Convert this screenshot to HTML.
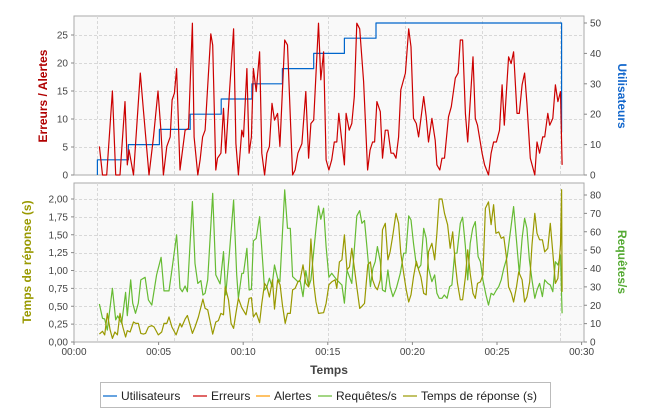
<!DOCTYPE html>
<html><head><meta charset="utf-8">
<style>
body{margin:0;background:#fff;width:647px;height:415px;overflow:hidden;font-family:"Liberation Sans",Arial,sans-serif;}
svg text{font-family:"Liberation Sans",Arial,sans-serif;}
</style></head>
<body>
<svg id="chart" width="647" height="415" xmlns="http://www.w3.org/2000/svg"></svg>
<script>
// ---- data (time in seconds) ----
const xTickLabels = ["00:00","00:05","00:10","00:15","00:20","00:25","00:30"];
const gridTimes = [81,354,630,899,1175,1448,1724];
const errLeftTicks = [0,5,10,15,20,25];
const usersTicks = [0,10,20,30,40,50];
const rtTicks = [0,0.25,0.5,0.75,1,1.25,1.5,1.75,2];
const rtTickLabels = ["0,00","0,25","0,50","0,75","1,00","1,25","1,50","1,75","2,00"];
const reqTicks = [0,10,20,30,40,50,60,70,80];

const usersTimes = [83,83,193,303,412,522,631,739,850,959,1071,1727,1729];
const usersValues = [0,5,10,15,20,25,30,35,40,45,50,50,14];

const errTimes = [90,101,116,136,148,163,181,189,195,211,235,246,266,282,298,308,317,329,341,348,356,364,376,394,406,420,426,439,447,456,465,485,492,503,509,521,530,538,551,566,574,583,595,601,613,621,629,636,646,658,666,676,684,693,702,711,722,730,747,757,775,784,794,808,822,832,840,850,867,875,885,894,904,914,923,932,939,950,959,965,976,985,994,1003,1013,1027,1041,1050,1059,1066,1074,1086,1094,1104,1113,1124,1133,1142,1151,1159,1175,1187,1195,1204,1214,1222,1240,1249,1257,1269,1281,1287,1297,1305,1314,1328,1338,1352,1362,1370,1378,1388,1396,1415,1423,1431,1447,1456,1470,1479,1488,1498,1509,1518,1526,1541,1550,1559,1571,1579,1589,1598,1606,1618,1634,1642,1651,1662,1669,1680,1687,1698,1707,1716,1725,1731];
const errValues = [5.1,0,0,15,0,0,13.1,1.8,4.5,0,18.2,11.6,0,6.8,15,8,0,5.1,6.8,13.4,14.6,19,0.9,8,8.3,27.1,6.8,0,2.7,6.8,8,25.2,23.2,0.9,3,3.9,11.9,3.9,14.6,26.1,5.6,0,8,6.8,19,3.9,6.8,19,14.9,22,3.9,0,3.9,5.1,12.8,9.8,11,5.1,24.1,23.2,0,0.9,3.9,5.6,14.9,3,9.2,9.8,27.1,17,22,2.7,0.9,2.7,5.9,5.9,11,5.9,1.8,11,8,9.2,14,27.1,26.1,16.7,0.9,4.5,5.9,5.9,13.1,11.3,3,8,8,3.9,3.9,3,6.8,15.2,18.2,26.1,22.9,10.1,9.2,6.8,14,10.4,5.9,10.1,6.2,1.8,0.9,3,3,10.4,12.2,17.3,18.2,24.1,24.1,11,5.9,21.1,10.1,8.9,3.9,1.8,0,3.9,5.9,5.9,8,16.1,8.9,21.1,19.9,22,11,11,16.1,18.2,12.8,3,0,5.9,3.9,6.8,6.8,11,8.9,10.1,16.1,13.1,14.9,1.8];

const alertTimes = [];
const alertValues = [];

const reqTimes = [90,101,109,118,136,148,155,169,183,189,201,208,218,228,237,252,264,276,293,309,319,337,347,364,376,384,394,402,420,429,439,450,457,465,474,492,503,518,530,538,551,566,577,583,595,601,613,621,629,636,646,658,676,684,693,702,711,722,730,747,757,767,775,794,802,812,822,832,840,858,867,875,885,894,904,914,932,950,959,968,985,1003,1013,1021,1030,1042,1051,1060,1068,1076,1086,1094,1104,1113,1121,1131,1143,1157,1169,1177,1187,1195,1204,1214,1222,1230,1240,1249,1257,1269,1279,1287,1295,1305,1313,1323,1332,1340,1350,1358,1370,1378,1388,1396,1405,1414,1423,1433,1441,1450,1461,1470,1479,1488,1498,1506,1515,1524,1536,1559,1571,1579,1589,1598,1606,1615,1624,1634,1642,1651,1661,1669,1680,1689,1698,1707,1716,1725,1731];
const reqValues = [20.7,12.9,12.5,6.5,29.2,12,14.2,10.2,27,14.3,33.8,21.1,15.6,21.1,33.8,35.2,22.9,20.1,36.5,46.1,27.8,27.8,39.2,58.3,29.2,27.4,30.5,27.4,76.4,42.8,31.9,33.4,25.6,26.5,33.8,80.9,36.5,31.6,49.2,25.6,48.3,77.3,36.5,23.8,37.4,37.4,51,28.3,28.7,55,56.4,68.2,28.3,30.1,34.7,30.1,41.9,34.7,32.8,82.8,61.9,61.9,35.6,32.8,33.2,24.7,38.8,30.1,33.8,61.9,74,66.8,72.8,51.9,35.2,37.4,33.8,31,21.1,39.2,31.9,68.6,71.5,64.6,66.1,46.5,30.1,40.1,43.7,51.9,43.7,28.3,27.4,39.2,30.1,24.7,29.2,37.4,48.3,48.3,68.6,66.4,53.7,41.9,40.1,41.9,61.9,56.4,40.1,32.8,36.5,26.5,23.8,23.8,25.6,23.8,30.1,31,48.3,48.3,64.6,67.9,51.9,33.8,53.7,61.9,65.5,46.5,43.7,33.8,25.6,20.1,26.5,25.6,28.3,30.1,33.8,40.1,46.5,73.7,51.9,37.4,56.4,67.3,61.9,44.6,33.8,23.8,28.3,31.9,24.7,33.8,31.9,31,27.4,43.7,41.9,47.4,15.6];

const rtTimes = [90,101,109,118,128,136,145,154,163,173,183,189,199,211,219,228,237,246,254,264,276,284,299,311,319,329,337,347,362,376,382,394,402,420,429,441,457,465,474,492,503,512,521,530,536,548,557,566,574,583,595,610,621,629,636,646,658,666,676,684,693,704,711,722,731,739,749,757,767,775,784,794,802,812,822,832,840,850,858,867,885,894,904,914,926,932,941,950,959,968,977,985,1003,1013,1021,1030,1042,1051,1059,1068,1076,1086,1094,1104,1113,1121,1131,1142,1151,1159,1169,1178,1187,1195,1204,1214,1222,1230,1240,1249,1257,1269,1279,1287,1295,1305,1314,1325,1334,1343,1352,1360,1370,1378,1388,1396,1405,1415,1423,1431,1441,1450,1459,1470,1479,1488,1496,1506,1515,1524,1533,1541,1551,1559,1569,1577,1589,1598,1606,1616,1624,1634,1642,1651,1661,1669,1680,1689,1698,1707,1716,1725,1729,1731];
const rtValues = [0.11,0.15,0.1,0.4,0.17,0.05,0.14,0.1,0.4,0.21,0.07,0.16,0.14,0.28,0.26,0.26,0.12,0.11,0.12,0.21,0.23,0.21,0.1,0.14,0.26,0.26,0.35,0.21,0.1,0.26,0.21,0.32,0.37,0.12,0.21,0.35,0.6,0.47,0.45,0.11,0.28,0.3,0.4,0.38,0.77,0.59,0.26,0.19,0.4,0.61,0.48,0.38,0.61,0.62,0.35,0.41,0.27,0.54,0.82,0.77,0.63,0.87,0.46,0.87,0.8,0.52,0.26,0.4,0.4,0.73,0.75,0.84,0.87,1.08,0.82,0.77,1.44,0.82,0.56,0.4,0.41,0.54,0.8,0.84,0.87,0.75,1.12,1.15,1.5,1.01,1.05,1.31,0.77,0.47,0.5,0.54,1.08,1.12,0.87,0.77,0.73,0.87,1.57,1.66,1.15,1.26,1.5,1.8,1.66,1.24,0.96,0.73,0.56,0.66,0.91,1.13,1.01,0.91,0.68,0.66,1.26,1.38,1.15,1.52,2,2,1.8,1.64,1.31,1.54,1.1,0.82,0.59,0.59,0.91,1.29,0.96,0.68,0.61,0.82,0.84,0.94,1.87,1.96,1.64,1.92,1.52,1.54,1.45,1.47,1.2,0.77,0.68,0.56,0.77,0.98,0.87,0.56,0.63,0.84,1.36,1.8,1.52,1.43,1.43,1.26,1.31,1.66,1.25,0.82,0.89,1.36,2.13,0.7];

// ---- geometry ----
const svg = document.getElementById('chart');
const NS = 'http://www.w3.org/2000/svg';
const PL = 74, PR = 584;
const T1 = 16, B1 = 175, T2 = 183, B2 = 342;
const xS = t => PL + t * 84.6 / 300;
const yErr = v => B1 - v * 5.6;
const yUsers = v => B1 - v * 3.04;
const yRt = v => B2 - v * 71.5;
const yReq = v => B2 - v * 1.8375;

function el(tag, attrs, parent) {
  const e = document.createElementNS(NS, tag);
  for (const k in attrs) e.setAttribute(k, attrs[k]);
  (parent || svg).appendChild(e);
  return e;
}
function txt(s, attrs, parent) { const e = el('text', attrs, parent); e.textContent = s; return e; }

const bg1 = el('rect', {x:PL, y:T1, width:PR-PL, height:B1-T1, fill:'#f9f9f9', stroke:'#aaaaaa'});


const bg2 = el('rect', {x:PL, y:T2, width:PR-PL, height:B2-T2, fill:'#f9f9f9', stroke:'#aaaaaa'});



const grid = el('g', {stroke:'#d8d8d8', 'stroke-dasharray':'3,2', 'stroke-width':1});


gridTimes.forEach(t => {
  const x = Math.round(xS(t)) + 0.5;
  el('line', {x1:x, x2:x, y1:T1, y2:B1}, grid);
  el('line', {x1:x, x2:x, y1:T2, y2:B2}, grid);
});
errLeftTicks.forEach(v => { if (v>0){ const y=Math.round(yErr(v))+0.5; el('line',{x1:PL,x2:PR,y1:y,y2:y},grid);} });
rtTicks.forEach(v => { if (v>0){ const y=Math.round(yRt(v))+0.5; el('line',{x1:PL,x2:PR,y1:y,y2:y},grid);} });

const axisG = el('g', {'font-size':10, fill:'#444'});


errLeftTicks.forEach(v => {
  const y = yErr(v);
  el('line', {x1:PL-3, x2:PL, y1:y, y2:y, stroke:'#888'}, axisG);
  txt(String(v), {x:PL-6, y:y+3.5, 'text-anchor':'end'}, axisG);
});
usersTicks.forEach(v => {
  const y = yUsers(v);
  el('line', {x1:PR, x2:PR+3, y1:y, y2:y, stroke:'#888'}, axisG);
  txt(String(v), {x:PR+6, y:y+3.5}, axisG);
});
rtTicks.forEach((v,i) => {
  const y = yRt(v);
  el('line', {x1:PL-3, x2:PL, y1:y, y2:y, stroke:'#888'}, axisG);
  txt(rtTickLabels[i], {x:PL-6, y:y+3.5, 'text-anchor':'end'}, axisG);
});
reqTicks.forEach(v => {
  const y = yReq(v);
  el('line', {x1:PR, x2:PR+3, y1:y, y2:y, stroke:'#888'}, axisG);
  txt(String(v), {x:PR+6, y:y+3.5}, axisG);
});
xTickLabels.forEach((s,i) => {
  const x = xS(i*300);
  el('line', {x1:x, x2:x, y1:B2, y2:B2+3, stroke:'#888'}, axisG);
  txt(s, {x:x, y:B2+13, 'text-anchor':'middle'}, axisG);
});

const t1 = txt('Erreurs / Alertes', {x:0, y:0, 'font-size':12, 'font-weight':'bold', fill:'#b00000', 'text-anchor':'middle', transform:'translate(47,96) rotate(-90)'});


const t2 = txt('Utilisateurs', {x:0, y:0, 'font-size':12, 'font-weight':'bold', fill:'#1166cc', 'text-anchor':'middle', transform:'translate(618,96) rotate(90)'});


const t3 = txt('Temps de réponse (s)', {x:0, y:0, 'font-size':12, 'font-weight':'bold', fill:'#999900', 'text-anchor':'middle', transform:'translate(31,262) rotate(-90)'});


const t4 = txt('Requêtes/s', {x:0, y:0, 'font-size':12, 'font-weight':'bold', fill:'#55aa33', 'text-anchor':'middle', transform:'translate(618,262) rotate(90)'});


const t5 = txt('Temps', {x:329, y:374, 'font-size':12, 'font-weight':'bold', fill:'#444', 'text-anchor':'middle'});



function line(times, vals, yf, color, name, step) {
  if (!times.length) return;
  let d = '';
  times.forEach((t,i) => {
    const x = xS(t).toFixed(1), y = yf(vals[i]).toFixed(1);
    if (i === 0) d += 'M' + x + ',' + y;
    else if (step) d += 'H' + x + 'V' + y;
    else d += 'L' + x + ',' + y;
  });
  const p = el('path', {d:d, fill:'none', stroke:color, 'stroke-width':1.2, 'stroke-linejoin':'round'});
  
  
}
line(usersTimes, usersValues, yUsers, '#0066cc', 'users-line', true);
line(errTimes, errValues, yErr, '#cc0000', 'errors-line', false);
line(alertTimes, alertValues, yErr, '#ff9900', 'alerts-line', false);
line(reqTimes, reqValues, yReq, '#66bb33', 'requests-line', false);
line(rtTimes, rtValues, yRt, '#999900', 'response-time-line', false);

const lg = el('g', {'font-size':12, fill:'#222'});


el('rect', {x:100.5, y:382.5, width:450, height:25, fill:'#fff', stroke:'#bbbbbb'}, lg);
const legendNames = ['Utilisateurs','Erreurs','Alertes','Requêtes/s','Temps de réponse (s)'];
const legendColors = ['#0066cc','#cc0000','#ff9900','#66bb33','#999900'];
const legendX = [103,193,256,318,403];
legendNames.forEach((n,i) => {
  const g = el('g', {}, lg);
  
  
  el('line', {x1:legendX[i], x2:legendX[i]+14, y1:396, y2:396, stroke:legendColors[i], 'stroke-width':1.2}, g);
  txt(n, {x:legendX[i]+18, y:400}, g);
});
</script>
</body></html>
